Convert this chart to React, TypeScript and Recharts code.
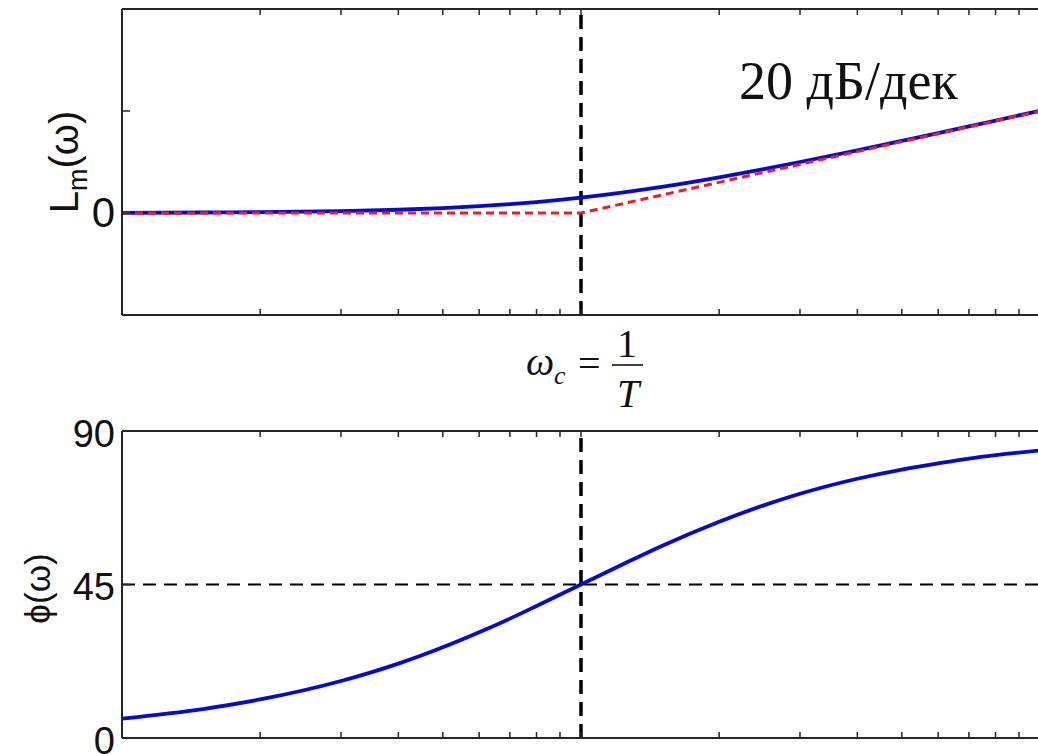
import React from "react";
import { LineChart, Line, XAxis, YAxis, ReferenceLine } from "recharts";

// normalised frequency ωT, log spaced
const OMEGA = [0.1, 0.15, 0.2, 0.3, 0.4, 0.5, 0.6, 0.7, 0.8, 1, 1.25, 1.5, 2, 2.5, 3, 4, 5, 6, 7, 8, 10];
// exact log-magnitude, dB
const LM_DB = [0.04, 0.1, 0.17, 0.37, 0.64, 0.97, 1.34, 1.73, 2.15, 3.01, 4.09, 5.12, 6.99, 8.6, 10.0, 12.3, 14.15, 15.68, 16.99, 18.13, 20.04];
// phase, degrees
const PHASE_DEG = [5.7, 8.5, 11.3, 16.7, 21.8, 26.6, 31.0, 35.0, 38.7, 45, 51.3, 56.3, 63.4, 68.2, 71.6, 76.0, 78.7, 80.5, 81.9, 82.9, 84.3];
// straight-line asymptote break points
const ASYM_OMEGA = [0.1, 1, 10];
const ASYM_DB = [0, 0, 20];

const X_TICKS = [0.1, 0.2, 0.3, 0.4, 0.5, 0.6, 0.7, 0.8, 0.9, 1, 2, 3, 4, 5, 6, 7, 8, 9, 10];
const MAG_TICKS = [-20, 0, 20, 40];
const MAG_LABELS: Record<number, string> = { 0: "0" };
const PHASE_TICKS = [0, 45, 90];
const PHASE_LABELS: Record<number, string> = { 0: "0", 45: "45", 90: "90" };

const FRAME = "#262626";
const BLUE = "#0808d2";
const RED = "#ee1c24";
const SANS = "'Liberation Sans', Arial, sans-serif";
const SERIF = "'Liberation Serif', 'Times New Roman', serif";

const magData = OMEGA.map((w, i) => ({ w, db: LM_DB[i] }));
const phaseData = OMEGA.map((w, i) => ({ w, deg: PHASE_DEG[i] }));
const asymData = ASYM_OMEGA.map((w, i) => ({ w, db: ASYM_DB[i] }));

// inward tick marks on the frame
const xTick = (side: "top" | "bottom") => (props: any) => {
  const { x, y } = props;
  const dir = side === "bottom" ? -1 : 1;
  return <line x1={x} y1={y} x2={x} y2={y + dir * 6} stroke={FRAME} strokeWidth={1.5} />;
};

const yTick = (side: "left" | "right", labels: Record<number, string>, fontSize: number, dy: string) => (props: any) => {
  const { x, y, payload } = props;
  const dir = side === "left" ? 1 : -1;
  const label = side === "left" ? labels[payload.value] : undefined;
  return (
    <g>
      <line x1={x} y1={y} x2={x + dir * 8} y2={y} stroke={FRAME} strokeWidth={1.5} />
      {label && (
        <text x={x - 7} y={y} dy={dy} textAnchor="end" fontFamily={SANS} fontSize={fontSize} fill="#111">
          {label}
        </text>
      )}
    </g>
  );
};

const MagTitle = (props: any) => {
  const { viewBox } = props;
  const cx = viewBox.x - 24;
  const cy = viewBox.y + viewBox.height / 2;
  return (
    <text transform={`translate(${cx}, ${cy}) rotate(-90)`} textAnchor="middle" fontFamily={SANS} fontSize={40} fill="#111">
      L<tspan fontSize={27} dy={9}>m</tspan>
      <tspan dy={-9}>(ω)</tspan>
    </text>
  );
};

const PhaseTitle = (props: any) => {
  const { viewBox } = props;
  const cx = viewBox.x - 52;
  const cy = viewBox.y + viewBox.height / 2 + 4;
  return (
    <text transform={`translate(${cx}, ${cy}) rotate(-90)`} textAnchor="middle" fontFamily={SANS} fontSize={35} fill="#111">
      ϕ(ω)
    </text>
  );
};

// ω_c = 1/T under the magnitude plot, centred on ωT = 1
const CornerLabel = (props: any) => {
  const { viewBox } = props;
  const cx = viewBox.x + viewBox.width / 2;
  const y0 = viewBox.y;
  return (
    <g fontFamily={SERIF} fill="#111">
      <text x={cx - 55} y={y0 + 60} fontSize={40} fontStyle="italic">ω</text>
      <text x={cx - 27} y={y0 + 69} fontSize={26} fontStyle="italic">c</text>
      <text x={cx - 3} y={y0 + 62} fontSize={40}>=</text>
      <line x1={cx + 31} y1={y0 + 50} x2={cx + 62} y2={y0 + 50} stroke="#111" strokeWidth={1.6} />
      <text x={cx + 46} y={y0 + 42} fontSize={40} textAnchor="middle">1</text>
      <text x={cx + 47} y={y0 + 92} fontSize={40} fontStyle="italic" textAnchor="middle">T</text>
    </g>
  );
};

const xAxisCommon = {
  type: "number" as const,
  dataKey: "w",
  scale: "log" as const,
  domain: [0.1, 10],
  ticks: X_TICKS,
  interval: 0,
  allowDataOverflow: true,
  tickSize: 0,
  tickMargin: 0,
  tickLine: false,
  axisLine: { stroke: FRAME, strokeWidth: 2 },
};

const MagnitudePlot = () => (
  <LineChart width={1100} height={420} data={magData} margin={{ top: 4, right: 40, bottom: 5, left: 102 }}>
    <XAxis {...xAxisCommon} height={100} tick={xTick("bottom")} label={<CornerLabel />} />
    <XAxis {...xAxisCommon} xAxisId="top" orientation="top" height={5} tick={xTick("top")} />
    <YAxis
      yAxisId="mag"
      type="number"
      domain={[-20, 40]}
      ticks={MAG_TICKS}
      interval={0}
      width={20}
      tickSize={0}
      tickMargin={0}
      tickLine={false}
      axisLine={{ stroke: FRAME, strokeWidth: 2 }}
      tick={yTick("left", MAG_LABELS, 42, "0.34em")}
      label={<MagTitle />}
    />
    <YAxis
      yAxisId="magR"
      orientation="right"
      type="number"
      domain={[-20, 40]}
      ticks={MAG_TICKS}
      interval={0}
      width={20}
      tickSize={0}
      tickMargin={0}
      tickLine={false}
      axisLine={{ stroke: FRAME, strokeWidth: 2 }}
      tick={yTick("right", MAG_LABELS, 42, "0.34em")}
    />
    <ReferenceLine yAxisId="mag" x={1} stroke="#000" strokeWidth={3.5} strokeDasharray="14 8" />
    <Line yAxisId="mag" type="monotone" dataKey="db" stroke={BLUE} strokeWidth={3.8} dot={false} isAnimationActive={false} />
    <Line
      yAxisId="mag"
      data={asymData}
      type="linear"
      dataKey="db"
      stroke={RED}
      strokeWidth={3}
      strokeDasharray="8 5"
      dot={false}
      isAnimationActive={false}
    />
    <text x={739} y={99} fontFamily={SERIF} fontSize={54} fill="#111">
      20 дБ/дек
    </text>
  </LineChart>
);

// phase chart starts a little above its frame so the "90" label has room
const PhasePlot = () => (
  <LineChart width={1100} height={354} data={phaseData} margin={{ top: 26, right: 40, bottom: 6, left: 102 }}>
    <XAxis {...xAxisCommon} height={10} tick={xTick("bottom")} />
    <XAxis {...xAxisCommon} xAxisId="top" orientation="top" height={5} tick={xTick("top")} />
    <YAxis
      yAxisId="ph"
      type="number"
      domain={[0, 90]}
      ticks={PHASE_TICKS}
      interval={0}
      width={20}
      tickSize={0}
      tickMargin={0}
      tickLine={false}
      axisLine={{ stroke: FRAME, strokeWidth: 2 }}
      tick={yTick("left", PHASE_LABELS, 38, "0.42em")}
      label={<PhaseTitle />}
    />
    <YAxis
      yAxisId="phR"
      orientation="right"
      type="number"
      domain={[0, 90]}
      ticks={PHASE_TICKS}
      interval={0}
      width={20}
      tickSize={0}
      tickMargin={0}
      tickLine={false}
      axisLine={{ stroke: FRAME, strokeWidth: 2 }}
      tick={yTick("right", PHASE_LABELS, 38, "0.42em")}
    />
    <ReferenceLine yAxisId="ph" y={45} stroke="#000" strokeWidth={1.8} strokeDasharray="13 8" />
    <ReferenceLine yAxisId="ph" x={1} stroke="#000" strokeWidth={3.5} strokeDasharray="14 8" />
    <Line yAxisId="ph" type="monotone" dataKey="deg" stroke={BLUE} strokeWidth={3.8} dot={false} isAnimationActive={false} />
  </LineChart>
);

export default function App() {
  return (
    <div style={{ position: "absolute", left: 0, top: 0, width: 1038, height: 754, overflow: "hidden", background: "#fff" }}>
      <div style={{ position: "absolute", left: 0, top: 0 }}>
        <MagnitudePlot />
      </div>
      <div style={{ position: "absolute", left: 0, top: 400 }}>
        <PhasePlot />
      </div>
    </div>
  );
}
